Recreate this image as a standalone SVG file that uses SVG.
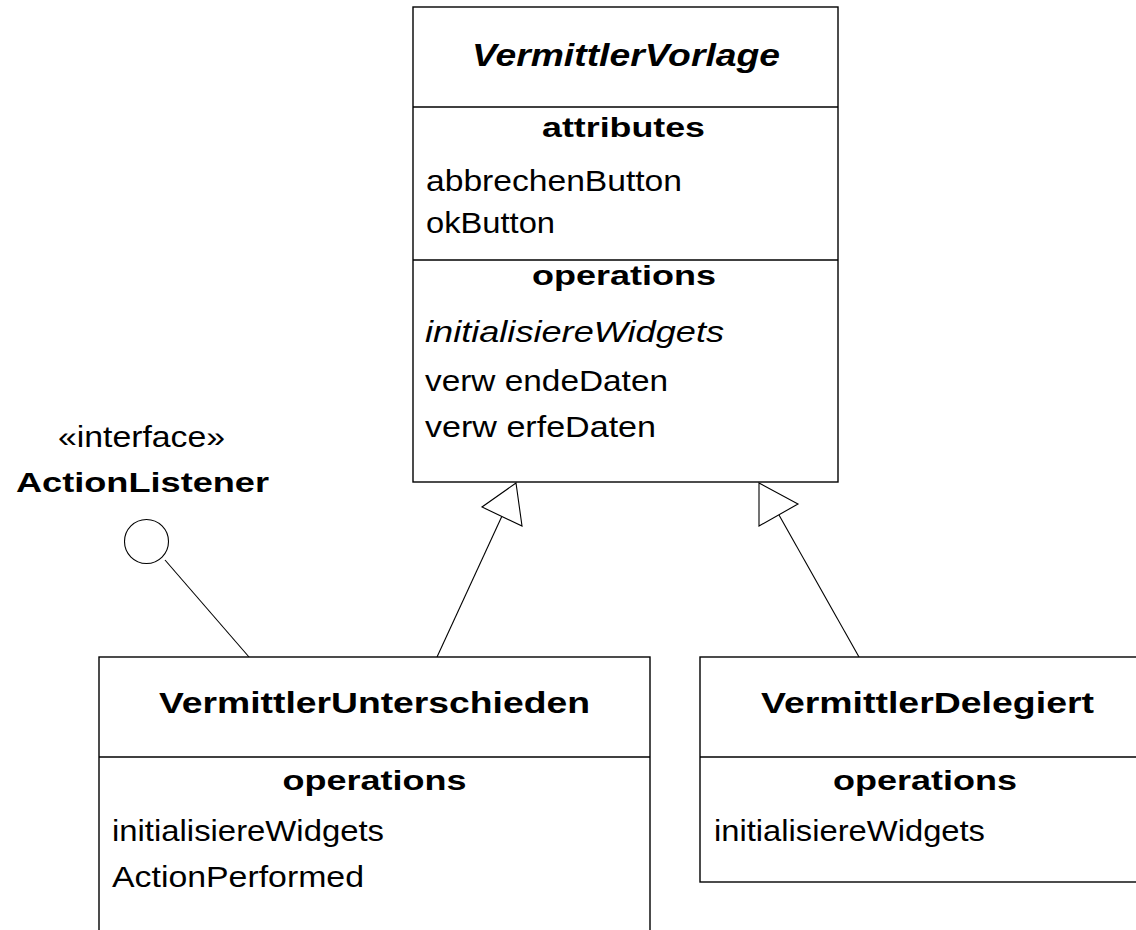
<svg xmlns="http://www.w3.org/2000/svg" width="1136" height="930" viewBox="0 0 1136 930">
<style>
.box{fill:#fff;stroke:#000;stroke-width:1.4}
.sep{stroke:#000;stroke-width:1.3}
.ln{stroke:#000;stroke-width:1.1;fill:none}
.head{fill:#fff;stroke:#000;stroke-width:1.1}
text{font-family:"Liberation Sans",Arial,sans-serif;fill:#000}
.r{font-size:29px}
.ri{font-size:29px;font-style:italic}
.b{font-size:28px;font-weight:bold}
.ti{font-size:30px;font-weight:bold}
.tii{font-size:31px;font-weight:bold;font-style:italic}
</style>
<rect width="1136" height="930" fill="#fff"/>
<g id="connectors">
<line class="ln" x1="437" y1="657" x2="502" y2="516"/>
<polygon class="head" points="516,483 482,507 522,526"/>
<line class="ln" x1="859" y1="657" x2="779" y2="515"/>
<polygon class="head" points="759,483 798,504 759,526"/>
<line class="ln" x1="249" y1="657" x2="165" y2="560"/>
</g>
<g id="VermittlerVorlage">
<rect class="box" x="413" y="7" width="425" height="475"/>
<line class="sep" x1="413" y1="107" x2="838" y2="107"/>
<line class="sep" x1="413" y1="260" x2="838" y2="260"/>
<text class="tii" x="472" y="66" textLength="308" lengthAdjust="spacingAndGlyphs">VermittlerVorlage</text>
<text class="b" x="542" y="137" textLength="163" lengthAdjust="spacingAndGlyphs">attributes</text>
<text class="r" x="426" y="191" textLength="256" lengthAdjust="spacingAndGlyphs">abbrechenButton</text>
<text class="r" x="426" y="233" textLength="129" lengthAdjust="spacingAndGlyphs">okButton</text>
<text class="b" x="532" y="285" textLength="184" lengthAdjust="spacingAndGlyphs">operations</text>
<text class="ri" x="425" y="342" textLength="299" lengthAdjust="spacingAndGlyphs">initialisiereWidgets</text>
<text class="r" x="425" y="391" textLength="243" lengthAdjust="spacingAndGlyphs">verw endeDaten</text>
<text class="r" x="425" y="437" textLength="231" lengthAdjust="spacingAndGlyphs">verw erfeDaten</text>
</g>
<g id="ActionListener">
<circle cx="146.5" cy="541.5" r="22" fill="#fff" stroke="#000" stroke-width="1.1"/>
<text class="r" x="58" y="447" textLength="167" lengthAdjust="spacingAndGlyphs">«interface»</text>
<text class="b" x="16" y="492" textLength="253" lengthAdjust="spacingAndGlyphs">ActionListener</text>
</g>
<g id="VermittlerUnterschieden">
<rect class="box" x="99" y="657" width="551" height="300"/>
<line class="sep" x1="99" y1="757" x2="650" y2="757"/>
<text class="ti" x="159" y="713" textLength="431" lengthAdjust="spacingAndGlyphs">VermittlerUnterschieden</text>
<text class="b" x="282.5" y="790" textLength="184" lengthAdjust="spacingAndGlyphs">operations</text>
<text class="r" x="112" y="841" textLength="272" lengthAdjust="spacingAndGlyphs">initialisiereWidgets</text>
<text class="r" x="112" y="887" textLength="252" lengthAdjust="spacingAndGlyphs">ActionPerformed</text>
</g>
<g id="VermittlerDelegiert">
<rect class="box" x="700" y="657" width="460" height="225"/>
<line class="sep" x1="700" y1="757" x2="1160" y2="757"/>
<text class="ti" x="761" y="713" textLength="333" lengthAdjust="spacingAndGlyphs">VermittlerDelegiert</text>
<text class="b" x="833" y="790" textLength="184" lengthAdjust="spacingAndGlyphs">operations</text>
<text class="r" x="714" y="841" textLength="271" lengthAdjust="spacingAndGlyphs">initialisiereWidgets</text>
</g>
</svg>
